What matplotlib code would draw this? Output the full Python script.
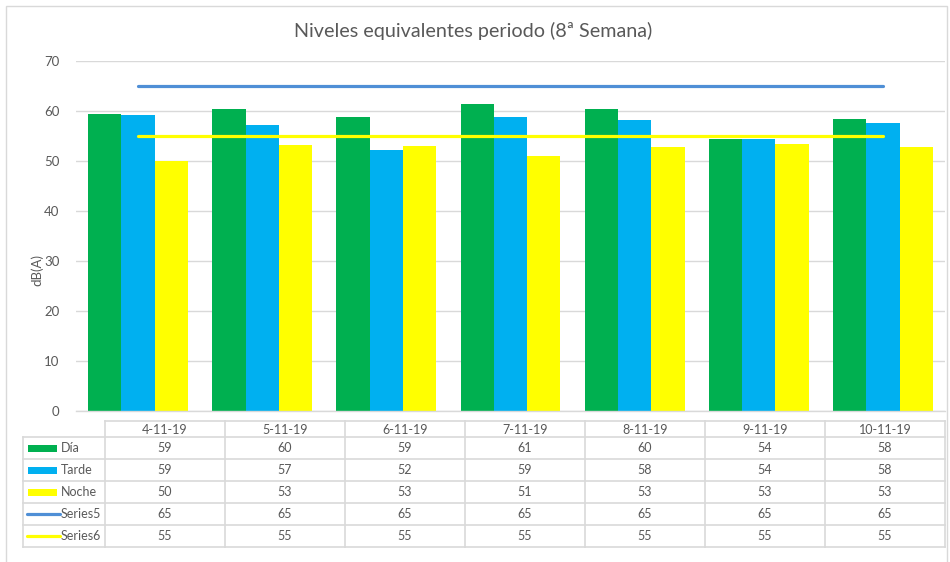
import matplotlib
matplotlib.use("Agg")
import matplotlib.pyplot as plt
from matplotlib.patches import Rectangle
from matplotlib.lines import Line2D
import numpy as np

plt.rcParams['font.family'] = ['Lato', 'DejaVu Sans']

# ---- data ----
title = "Niveles equivalentes periodo (8ª Semana)"
categories = ["4-11-19", "5-11-19", "6-11-19", "7-11-19", "8-11-19", "9-11-19", "10-11-19"]
dia = [59.4, 60.4, 58.8, 61.4, 60.4, 54.4, 58.4]
tarde = [59.2, 57.2, 52.2, 58.8, 58.2, 54.4, 57.6]
noche = [50.0, 53.2, 53.0, 51.0, 52.8, 53.4, 52.8]
series5 = [65, 65, 65, 65, 65, 65, 65]
series6 = [55, 55, 55, 55, 55, 55, 55]
series_names = ["Día", "Tarde", "Noche", "Series5", "Series6"]
y_label = "dB(A)"
y_ticks = [0, 10, 20, 30, 40, 50, 60, 70]

W, H = 950, 562
fig = plt.figure(figsize=(W / 100, H / 100), dpi=100)

def fx(x):
    return x / W

def fy(y):
    return 1 - y / H

GREY_TXT = "#595959"
GRID = "#D9D9D9"
C_DIA = "#00B050"
C_TARDE = "#00B0F0"
C_NOCHE = "#FFFF00"
C_S5 = "#4F8FD6"
C_S6 = "#FFFF00"

# outer border
fig.patches.append(Rectangle((fx(6), fy(566)), fx(947) - fx(6), fy(6) - fy(566),
                             transform=fig.transFigure, fill=False,
                             edgecolor=GRID, linewidth=1.0))

# ---- plot area ----
L, R, T, B = 76, 945, 61, 411
ax = fig.add_axes([fx(L), fy(B), fx(R) - fx(L), fy(T) - fy(B)])
n = len(categories)
x = np.arange(n)
bw = 0.268
ax.bar(x - bw, dia, bw, color=C_DIA, zorder=3)
ax.bar(x, tarde, bw, color=C_TARDE, zorder=3)
ax.bar(x + bw, noche, bw, color=C_NOCHE, zorder=3)
ax.plot(x, series5, color=C_S5, linewidth=2.3, zorder=4, solid_capstyle='round')
ax.plot(x, series6, color=C_S6, linewidth=2.3, zorder=4, solid_capstyle='round')

ax.set_xlim(-0.5, n - 0.5)
ax.set_ylim(0, 70)
ax.set_yticks(y_ticks)
ax.set_yticklabels([str(t) for t in y_ticks], fontsize=9.5, color=GREY_TXT)
ax.tick_params(axis='y', length=0, pad=12)
ax.set_xticks([])
ax.grid(axis='y', color=GRID, linewidth=1.0, zorder=0)
for s in ['top', 'right', 'left']:
    ax.spines[s].set_visible(False)
ax.spines['bottom'].set_color(GRID)
ax.spines['bottom'].set_linewidth(1.0)
ax.spines['bottom'].set_zorder(5)

fig.text(fx(37), fy(270), y_label, rotation=90, ha='center', va='center',
         fontsize=9.5, color=GREY_TXT)
fig.text(fx(473), fy(31), title, ha='center', va='center', fontsize=14.2,
         color=GREY_TXT)

# ---- data table ----
col_left = 105
col_w = 120
key_left = 23
hdr_top, hdr_bot = 421, 437
row_edges = [437, 459, 481, 503, 525, 547]
col_edges = [col_left + i * col_w for i in range(n + 1)]

def hline(x0, x1, y):
    fig.lines.append(Line2D([fx(x0), fx(x1)], [fy(y), fy(y)], transform=fig.transFigure,
                            color=GRID, linewidth=1.2))

def vline(x, y0, y1):
    fig.lines.append(Line2D([fx(x), fx(x)], [fy(y0), fy(y1)], transform=fig.transFigure,
                            color=GRID, linewidth=1.2))

hline(col_edges[0], col_edges[-1], hdr_top)
for y in row_edges:
    hline(key_left, col_edges[-1], y)
for cx in col_edges:
    vline(cx, hdr_top, row_edges[-1])
vline(key_left, row_edges[0], row_edges[-1])

for i, c in enumerate(categories):
    fig.text(fx(col_edges[i] + col_w / 2), fy((hdr_top + hdr_bot) / 2 + 0.5), c,
             ha='center', va='center', fontsize=9, color=GREY_TXT)

table_series = [dia, tarde, noche, series5, series6]
colors = [C_DIA, C_TARDE, C_NOCHE, C_S5, C_S6]
for r, (name, vals, col) in enumerate(zip(series_names, table_series, colors)):
    yc = (row_edges[r] + row_edges[r + 1]) / 2
    if r < 3:
        fig.patches.append(Rectangle((fx(28), fy(yc + 3.5)), fx(57) - fx(28), fy(yc - 3.5) - fy(yc + 3.5),
                                     transform=fig.transFigure, facecolor=col, edgecolor='none'))
    else:
        fig.lines.append(Line2D([fx(27), fx(60)], [fy(yc), fy(yc)], transform=fig.transFigure,
                                color=col, linewidth=2.3, solid_capstyle='round'))
    fig.text(fx(61), fy(yc + 0.5), name, ha='left', va='center', fontsize=9, color=GREY_TXT)
    for i, v in enumerate(vals):
        fig.text(fx(col_edges[i] + col_w / 2), fy(yc + 0.5), f"{round(v):d}",
                 ha='center', va='center', fontsize=9, color=GREY_TXT)

fig.savefig("out.png", dpi=100, facecolor='white')
